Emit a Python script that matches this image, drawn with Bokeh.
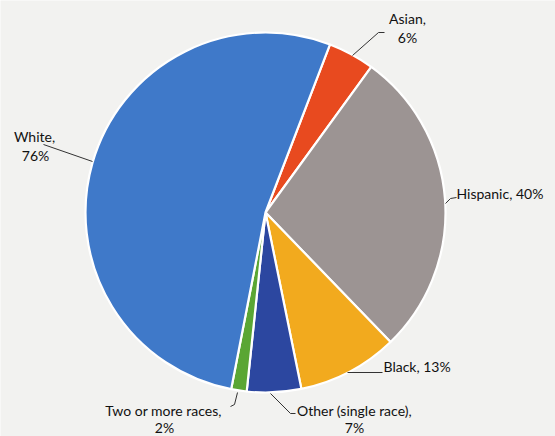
import numpy as np
from bokeh.plotting import figure
from bokeh.models import Range1d, ColumnDataSource
from bokeh.core.properties import value
from bokeh.embed import file_html
from bokeh.resources import INLINE

# ---- data (clockwise order, starting at the Asian slice) ----
categories = ["Asian", "Hispanic", "Black", "Other (single race)", "Two or more races", "White"]
values = [6, 40, 13, 7, 2, 76]
pct_labels = ["6%", "40%", "13%", "7%", "2%", "76%"]
colors = ["#e84a1f", "#9c9493", "#f2aa1e", "#2c47a0", "#5aa634", "#3f79c9"]

# ---- layout ----
W, H = 555, 436
CX, CY, R = 265, 212, 180          # pie centre / radius in image pixels (y down)
ROT = 21.0                          # clockwise offset from 12 o'clock of first slice

vals = np.array(values, dtype=float)
frac = vals / vals.sum()
cum = np.concatenate([[0], np.cumsum(frac)]) * 360.0 + ROT   # clockwise degrees from top
# convert clockwise-from-top to bokeh anticlockwise-from-+x
start = np.radians(90.0 - cum[1:])
end = np.radians(90.0 - cum[:-1])

src = ColumnDataSource(dict(cat=categories, start=start, end=end, color=colors))

p = figure(width=W, height=H, output_backend="svg", toolbar_location=None,
           x_range=Range1d(0, W), y_range=Range1d(0, H), min_border=0)
p.axis.visible = False
p.grid.visible = False
p.outline_line_color = None
p.background_fill_color = "#f2f2f0"
p.border_fill_color = "#f2f2f0"

p.wedge(x=CX, y=H - CY, radius=R, start_angle="start", end_angle="end",
        fill_color="color", line_color="white", line_width=2.2, source=src)

# ---- leader lines (image coords, y down) ----
leaders = [
    ([384, 378, 352], [32, 32, 55]),            # Asian
    ([445, 450, 456], [203, 198, 197]),         # Hispanic
    ([347, 382], [372, 372]),                   # Black
    ([270, 290, 295], [393, 413, 413]),         # Other
    ([237, 234, 230], [392, 404, 406]),         # Two or more
    ([43, 92], [144, 161]),                     # White
]
for xs, ys in leaders:
    p.line(xs, [H - y for y in ys], line_color="#333333", line_width=1)

# ---- labels ----
lab_text = [categories[0] + ",", pct_labels[0],
            categories[1] + ", " + pct_labels[1],
            categories[2] + ", " + pct_labels[2],
            categories[3] + ",", pct_labels[3],
            categories[4] + ",", pct_labels[4],
            categories[5] + ",", pct_labels[5]]
lab_x = [407, 407, 456, 383, 354, 354, 163, 164, 34, 35]
lab_y = [18, 37, 193, 366, 410, 427, 410, 427, 136, 155]
lab_align = ["center", "center", "left", "left", "center", "center", "center", "center", "center", "center"]

tsrc = ColumnDataSource(dict(x=lab_x, y=[H - y for y in lab_y], t=lab_text, a=lab_align))
p.text(x="x", y="y", text="t", text_align="a", text_baseline="middle",
       text_font=value("Lato"), text_font_size="14px", text_color="#111111",
       source=tsrc)

open("out.html", "w").write(file_html(p, INLINE))
